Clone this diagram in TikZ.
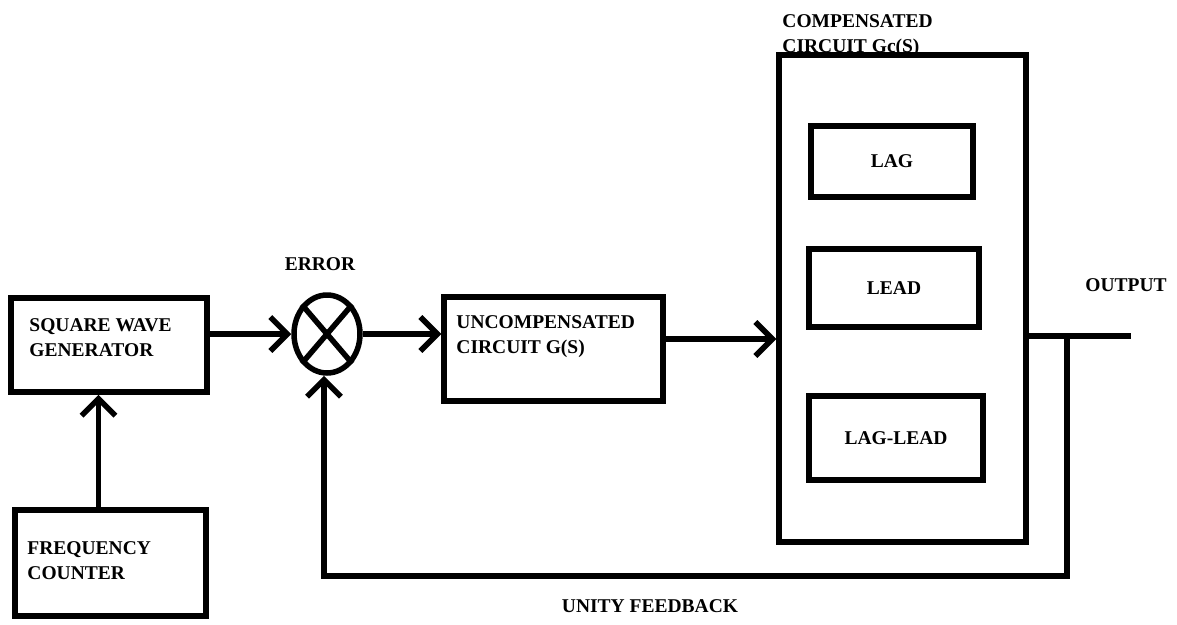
\documentclass[tikz,border=0pt]{standalone}
\usepackage{fontspec}
\setmainfont{Liberation Serif}
\usetikzlibrary{arrows.meta, positioning, shapes.geometric}

\begin{document}
\begin{tikzpicture}[
        x=1pt, y=-1pt,
        block/.style={rectangle, draw, line width=5.5pt, inner sep=0pt, font=\fontsize{19.5}{25}\selectfont\bfseries},
        sumnode/.style={ellipse, draw, line width=5.5pt, minimum width=66pt, minimum height=78pt, inner sep=0pt},
        lbl/.style={font=\fontsize{19.5}{25.5}\selectfont\bfseries, align=left, inner sep=0pt},
        signal/.style={-{Straight Barb[length=17pt, width=34pt]}, line width=5.5pt},
        wire/.style={line width=5.5pt}
    ]
        \useasboundingbox (0,0) rectangle (1177,624);

        % Blocks
        \node[block, minimum width=196pt, minimum height=94pt] (swg) at (109,345) {};
        \node[block, minimum width=191pt, minimum height=106pt] (freq) at (110.5,563) {};
        \node[sumnode] (sum) at (327,334) {};
        \node[block, minimum width=219pt, minimum height=104pt] (unc) at (553.5,349) {};
        \node[block, minimum width=247pt, minimum height=487pt] (comp) at (902.5,298.5) {};

        \node[block, minimum width=162pt, minimum height=71pt] (lag) at (892,161.5) {LAG};
        \node[block, minimum width=170pt, minimum height=78pt] (lead) at (894,288) {LEAD};
        \node[block, minimum width=174pt, minimum height=84pt] (laglead) at (896,438) {LAG-LEAD};

        % Texts
        \node[lbl, anchor=north west] (swgtxt) at ([shift={(21,23)}]swg.north west) {SQUARE WAVE\\GENERATOR};
        \node[lbl, anchor=north west] (freqtxt) at ([shift={(15,34)}]freq.north west) {FREQUENCY\\COUNTER};
        \node[lbl, anchor=north west] (unctxt) at ([shift={(15,21)}]unc.north west) {UNCOMPENSATED\\CIRCUIT G(S)};
        \node[lbl, anchor=north west] (comptxt) at ([shift={(6,-38)}]comp.north west) {COMPENSATED\\CIRCUIT Gc(S)};
        \node[lbl, above=21pt of sum, xshift=-7pt] (err) {ERROR};
        \node[lbl] (outtxt) at (1126,285) {OUTPUT};
        \node[lbl] (fbtxt) at (650,606) {UNITY FEEDBACK};

        % Summing junction cross
        \draw[wire] (sum.north east) -- (sum.south west)
                    (sum.north west) -- (sum.south east);

        % Points on the output and feedback path
        \coordinate (out) at (1131,336);
        \coordinate (tap) at (1067,336);
        \coordinate (fbk) at (1067,576);

        % Signal flow
        \draw[signal] (swg.east |- sum.west) -- (sum.west);
        \draw[signal] (sum.east) -- (unc.west |- sum.east);
        \draw[signal] ([yshift=10pt]unc.east) -- ([yshift=10pt]unc.east -| comp.west);
        \draw[signal] ([xshift=-12pt]freq.north) -- ([xshift=-12pt]freq.north |- swg.south);
        \draw[wire] (comp.east |- out) -- (out);
        \draw[signal] (tap) -- (fbk) -- ([xshift=-3pt]fbk -| sum.south) -- ([xshift=-3pt]sum.south);

    \end{tikzpicture}
\end{document}
